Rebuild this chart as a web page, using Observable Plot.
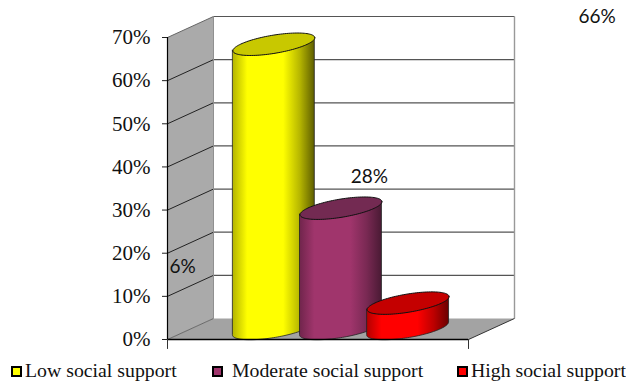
<!DOCTYPE html>
<html>
<head>
<meta charset="utf-8">
<script src="https://cdn.jsdelivr.net/npm/d3@7"></script>
<script src="https://cdn.jsdelivr.net/npm/@observablehq/plot@0.6"></script>
<style>
  html, body { margin: 0; background: #fff; }
  #chart { position: relative; width: 626px; height: 381px; overflow: hidden; }
  #chart svg { display: block; }
  .legend { position: absolute; left: 0; top: 356px; width: 626px; height: 25px;
            font: 19.8px "Liberation Serif", serif; color: #111; }
  .legend i { position: absolute; top: 10px; width: 7px; height: 7px; border: 2.5px solid #000; }
  .legend span { position: absolute; top: 3px; white-space: nowrap; }
</style>
</head>
<body>
<div id="chart"></div>
<script>
// Social support levels and the share of respondents in each
const categories = ["Low social support", "Moderate social support", "High social support"];
const shares = [66, 28, 6];
const bodyColors = ["#ffff00", "#a0356c", "#ff0000"];
const capColors = ["#c8c800", "#732a52", "#c40000"];
const edgeColors = ["#5e5e00", "#4a1a34", "#6a0000"];
const yTicks = [0, 10, 20, 30, 40, 50, 60, 70];

// Oblique projection of the 3D box, in axis units
const depthX = 0.1528;
const depthY = 4.87;
const project = (x, y, d) => ({x: x + d * depthX, y: y + d * depthY});

// Cylinders sit half way back on the floor and overlap each other
const step = 0.223;
const radius = 0.136;
const skewY = 1.5;
const flatY = 2.13;
const centre = (i) => 0.5 + (i - 1) * step;

const rim = (i, level, t) => {
  const c = project(centre(i), level, 0.5);
  return {x: c.x + radius * Math.cos(t), y: c.y + flatY * Math.sin(t) + skewY * Math.cos(t)};
};

const angles = d3.range(0, 121).map((k) => k * Math.PI / 60);
const frontAngles = angles.filter((t) => t >= Math.PI - 1e-9);

const bodies = shares.map((v, i) => frontAngles.map((t) => ({
  x: rim(i, 0, t).x,
  y1: rim(i, 0, t).y,
  y2: rim(i, v, t).y
})));
const caps = shares.map((v, i) => angles.map((t) => rim(i, v, t)));

// Walls and floor of the box
const floor = [project(0, 0, 0), project(1, 0, 0), project(1, 0, 1), project(0, 0, 1), project(0, 0, 0)];
const backWall = [project(0, 0, 1), project(1, 0, 1), project(1, 70, 1), project(0, 70, 1), project(0, 0, 1)];
const sideWall = [project(0, 0, 0), project(0, 0, 1), project(0, 70, 1), project(0, 70, 0), project(0, 0, 0)];
const gridValues = yTicks;

// Value labels keep their own anchors in axis units
const valueLabels = [
  {text: shares[0] + "%", x: 1.427, y: 74.7},
  {text: shares[1] + "%", x: 0.671, y: 37.8},
  {text: shares[2] + "%", x: 0.05, y: 16.8}
];

// Horizontal shading that rounds each cylinder
const gradients = () => {
  const svg = d3.create("svg:g");
  const defs = svg.append("defs");
  bodyColors.forEach((col, i) => {
    const g = defs.append("linearGradient").attr("id", `shade${i}`);
    const dark = d3.interpolateRgb(col, "#000");
    [[0, dark(0.3)], [0.18, col], [0.62, col], [0.82, d3.interpolateRgb(col, edgeColors[i])(0.45)], [1, edgeColors[i]]]
      .forEach(([o, c]) => g.append("stop").attr("offset", o).attr("stop-color", c));
  });
  return svg.node();
};

const plot = Plot.plot({
  width: 626,
  height: 356,
  marginLeft: 167,
  marginRight: 0,
  marginTop: 0,
  marginBottom: 0,
  style: {background: "transparent", overflow: "visible"},
  x: {domain: [0, 1], range: [167, 468], axis: null},
  y: {domain: [0, 70], range: [339, 37], axis: null},
  marks: [
    gradients,
    Plot.line(backWall, {x: "x", y: "y", fill: "#fff", stroke: "none"}),
    Plot.line(floor, {x: "x", y: "y", fill: "#a3a3a3", stroke: "none"}),
    Plot.line(sideWall, {x: "x", y: "y", fill: "#aaaaaa", stroke: "none"}),
    // gridlines on the back wall
    Plot.link(gridValues.filter((v) => v > 0), {
      x1: () => project(0, 0, 1).x, x2: () => project(1, 0, 1).x,
      y1: (v) => project(0, v, 1).y, y2: (v) => project(0, v, 1).y,
      stroke: "#555", strokeWidth: 1.2
    }),
    // gridlines on the side wall
    Plot.link(gridValues.filter((v) => v > 0 && v < 70), {
      x1: () => 0, x2: () => depthX,
      y1: (v) => v, y2: (v) => v + depthY,
      stroke: "#222", strokeWidth: 1
    }),
    Plot.link([0], {x1: () => 0, x2: () => depthX, y1: () => 0, y2: () => depthY, stroke: "#555", strokeWidth: 0.8}),
    Plot.link([70], {x1: () => 0, x2: () => depthX, y1: () => 70, y2: () => 70 + depthY, stroke: "#666", strokeWidth: 1}),
    // box edges
    Plot.link([0], {x1: () => depthX, x2: () => depthX, y1: () => depthY, y2: () => 70 + depthY, stroke: "#8f8f8f", strokeWidth: 1}),
    Plot.link([0], {x1: () => 1 + depthX, x2: () => 1 + depthX, y1: () => depthY, y2: () => 70 + depthY, stroke: "#999", strokeWidth: 1.4}),
    Plot.link([0], {x1: () => 1, x2: () => 1 + depthX, y1: () => 0, y2: () => depthY, stroke: "#333", strokeWidth: 1}),
    // cylinders, back to front
    ...shares.flatMap((v, i) => [
      Plot.area(bodies[i], {x1: "x", y1: "y1", y2: "y2", fill: `url(#shade${i})`, stroke: "#222", strokeWidth: 0.8}),
      Plot.line(caps[i], {x: "x", y: "y", fill: capColors[i], stroke: "#111", strokeWidth: 1})
    ]),
    // axes
    Plot.ruleX([0], {y1: 0, y2: 70, stroke: "#000", strokeWidth: 1.2}),
    Plot.axisY({
      ticks: yTicks,
      tickFormat: (d) => d + "%",
      tickSize: 5,
      tickPadding: 12,
      fontSize: 21,
      fontFamily: "Liberation Serif",
      fill: "#111",
      stroke: "#222"
    }),
    Plot.ruleY([0], {x1: 0, x2: 1, stroke: "#000", strokeWidth: 1.4}),
    Plot.ruleX([0, 1], {y1: 0, y2: -2.3, stroke: "#333", strokeWidth: 1}),
    // value labels
    Plot.text(valueLabels, {
      x: "x", y: "y", text: "text",
      fontSize: 19, fontFamily: "Lato", fill: "#111"
    })
  ]
});

const holder = document.getElementById("chart");
holder.appendChild(plot);

// Legend strip under the chart
const legend = d3.select(holder).append("div").attr("class", "legend");
const swatchLeft = [11, 212, 457];
const textLeft = [25, 232, 471];
categories.forEach((name, i) => {
  legend.append("i").style("left", swatchLeft[i] + "px").style("background", bodyColors[i]);
  legend.append("span").style("left", textLeft[i] + "px").text(name);
});
</script>
</body>
</html>
